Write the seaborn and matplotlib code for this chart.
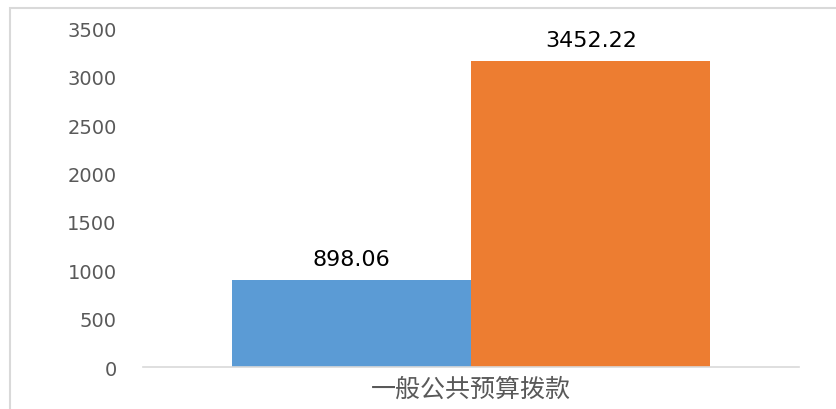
"""Budget allocation bar chart
"""
import matplotlib
matplotlib.use("Agg")
import matplotlib.pyplot as plt
import pandas as pd
import seaborn as sns
from matplotlib.patches import Rectangle

# Data
categories = ["一般公共预算拨款", "一般公共预算拨款"]
series = ["A", "B"]
values = [898.06, 3160.0]
value_labels = ["898.06", "3452.22"]
colors = ["#5B9BD5", "#ED7D31"]
y_ticks = [0, 500, 1000, 1500, 2000, 2500, 3000, 3500]

sns.set_style("white")
plt.rcParams["font.family"] = ["DejaVu Sans", "Noto Sans CJK SC"]

df = pd.DataFrame({"category": categories, "series": series, "value": values})

fig = plt.figure(figsize=(8.36, 4.10), dpi=100)
ax = fig.add_axes([0.171, 0.1024, 0.785, 0.826])

sns.barplot(data=df, x="category", y="value", hue="series", palette=colors,
            width=0.729, gap=0, legend=False, ax=ax, saturation=1,
            linewidth=0)

ax.set_ylim(0, 3500)
ax.set_xlim(-0.5, 0.5)
ax.set_yticks(y_ticks)
ax.set_yticklabels([str(t) for t in y_ticks], fontsize=14, color="#595959")
ax.tick_params(axis="y", length=0, pad=19)
ax.tick_params(axis="x", length=0, pad=6)
for lbl in ax.get_xticklabels():
    lbl.set_family(["Noto Sans CJK SC", "DejaVu Sans"])
    lbl.set_fontsize(18)
    lbl.set_fontweight("light")
    lbl.set_color("#595959")
ax.set_xlabel("")
ax.set_ylabel("")

for side in ["left", "right", "top"]:
    ax.spines[side].set_visible(False)
ax.spines["bottom"].set_color("#D9D9D9")
ax.spines["bottom"].set_linewidth(1.2)

# value labels above bars
for patch, text in zip(ax.patches, value_labels):
    cx = patch.get_x() + patch.get_width() / 2
    ax.annotate(text, (cx, patch.get_height()), xytext=(0, 15),
                textcoords="offset points", ha="center", va="center",
                fontsize=16, color="black")

# chart-area border (cropped on right and bottom)
fig.patches.append(Rectangle((10 / 836, -0.1), 1.2, (410 - 9) / 410 + 0.1,
                             transform=fig.transFigure, fill=False,
                             edgecolor="#D9D9D9", linewidth=1.5))

fig.savefig("out.png", dpi=100)
